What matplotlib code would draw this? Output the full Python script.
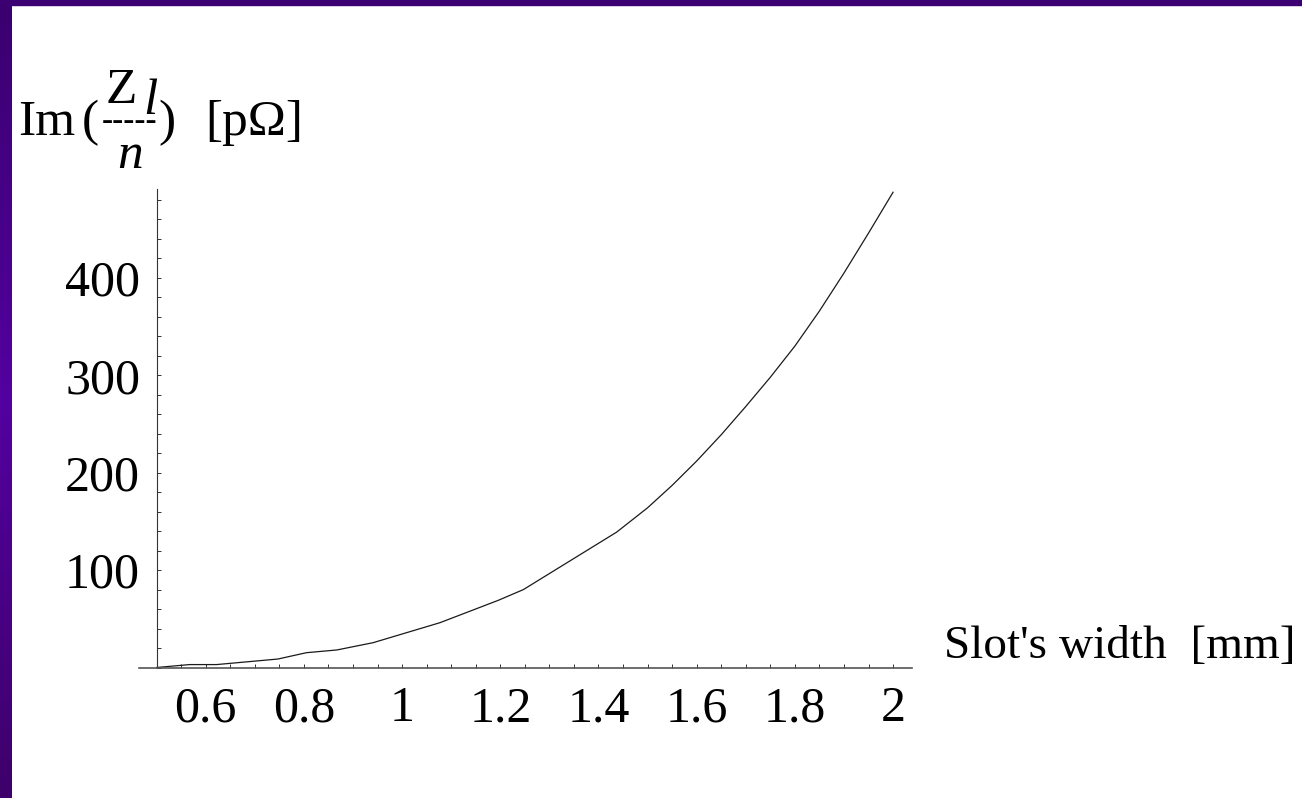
import numpy as np
import matplotlib
matplotlib.use("Agg")
import matplotlib.pyplot as plt
from matplotlib.colors import LinearSegmentedColormap
from matplotlib.patches import Rectangle
from matplotlib.ticker import FixedLocator, FixedFormatter, MultipleLocator

# data
slot_width = [0.5, 0.567, 0.622, 0.747, 0.805, 0.867, 0.941, 1.077, 1.196, 1.247,
              1.437, 1.5, 1.55, 1.6, 1.65, 1.7, 1.75, 1.8, 1.85, 1.9, 1.95, 2.0]
im_z = [0, 3.0, 3.0, 8.7, 15.2, 18, 25.5, 46, 69, 80,
        139, 164, 187, 212, 239, 268, 298, 330, 366, 405, 446, 488]

x_ticks = [0.6, 0.8, 1.0, 1.2, 1.4, 1.6, 1.8, 2.0]
x_tick_labels = ['0.6', '0.8', '1', '1.2', '1.4', '1.6', '1.8', '2']
y_ticks = [100, 200, 300, 400]
y_tick_labels = ['100', '200', '300', '400']

W, H = 1302, 798
plt.rcParams['font.family'] = ['Liberation Serif', 'DejaVu Serif']

fig = plt.figure(figsize=(W / 100, H / 100), dpi=100)
fig.patch.set_facecolor('white')


def fx(x):
    return x / W


def fy(y):
    return 1 - y / H


# purple slide frame (left strip with gradient, thin top band)
strip = fig.add_axes([0, 0, fx(12), 1])
cmap = LinearSegmentedColormap.from_list('frame', ['#3a006e', '#5300a0', '#3e006a'])
strip.imshow(np.linspace(0, 1, 256).reshape(-1, 1), cmap=cmap, aspect='auto')
strip.axis('off')
fig.add_artist(Rectangle((0, fy(5)), 1, 5 / H, transform=fig.transFigure,
                         color='#3c0072', zorder=5))

# main axes
ax = fig.add_axes([fx(139), fy(667.5), fx(773), 478.2 / H])
ax.plot(slot_width, im_z, color='#1a1a1a', lw=0.9)
ax.set_xlim(0.464, 2.0386)
ax.set_ylim(0, 491)

for side in ['top', 'right']:
    ax.spines[side].set_visible(False)
ax.spines['left'].set_position(('data', 0.5))
ax.spines['left'].set_color('#333333')
ax.spines['left'].set_linewidth(0.8)
ax.spines['bottom'].set_color('#555555')
ax.spines['bottom'].set_linewidth(1.2)

ax.xaxis.set_major_locator(FixedLocator(x_ticks))
ax.xaxis.set_major_formatter(FixedFormatter(x_tick_labels))
ax.xaxis.set_minor_locator(MultipleLocator(0.05))
ax.yaxis.set_major_locator(FixedLocator(y_ticks))
ax.yaxis.set_major_formatter(FixedFormatter(y_tick_labels))
ax.yaxis.set_minor_locator(MultipleLocator(20))

ax.tick_params(which='both', direction='in', length=3, width=0.7, color='#333333')
ax.tick_params(axis='x', labelsize=36, pad=13)
ax.tick_params(axis='y', labelsize=36, pad=12)

# x axis label at the end of the axis
fig.text(fx(944), fy(658), "Slot's width  [mm]", fontsize=34, ha='left', va='baseline')

# y axis label: Im(Z_l / n) [pOmega]
fs = 37
fig.text(fx(18), fy(135), "Im", fontsize=fs, ha='left', va='baseline')
fig.text(fx(82), fy(135), "(", fontsize=fs, ha='left', va='baseline')
fig.text(fx(106), fy(103), "Z", fontsize=fs, ha='left', va='baseline')
fig.text(fx(143), fy(114), "l", fontsize=fs, style='italic', ha='left', va='baseline')
fig.text(fx(102), fy(130), "-----", fontsize=24, ha='left', va='baseline')
fig.text(fx(117), fy(168), "n", fontsize=fs, style='italic', ha='left', va='baseline')
fig.text(fx(158), fy(135), ")", fontsize=fs, ha='left', va='baseline')
fig.text(fx(205), fy(135), "[p\u03a9]", fontsize=fs, ha='left', va='baseline')

fig.savefig('out.png', dpi=100)
